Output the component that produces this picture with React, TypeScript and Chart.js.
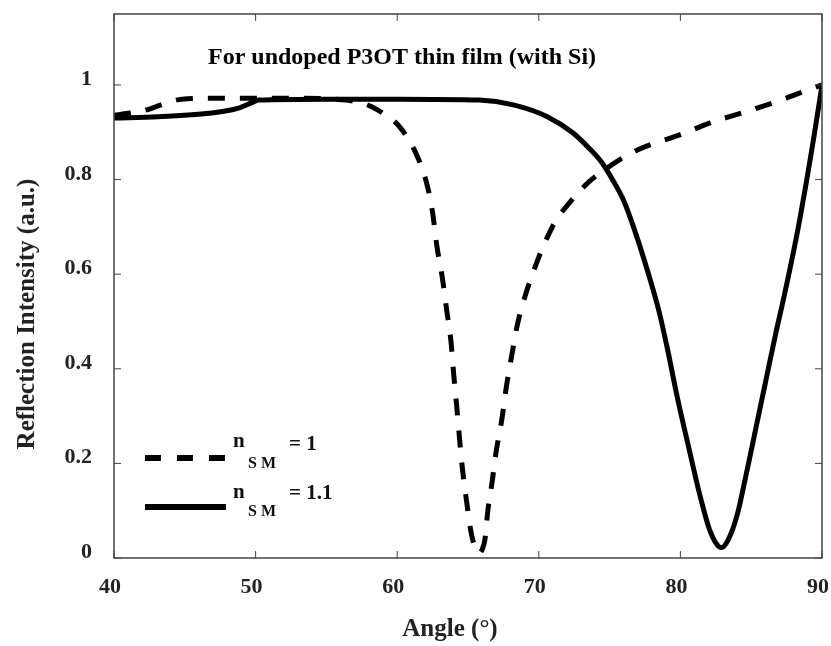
import React, { useEffect, useRef } from 'react';
import { Chart, registerables } from 'chart.js';

Chart.register(...registerables);

const FONT = '"Liberation Serif", "Times New Roman", serif';

const chartTitle = 'For undoped P3OT thin film (with Si)';
const xTitle = 'Angle (°)';
const yTitle = 'Reflection Intensity (a.u.)';
const legendMain = ['n', 'n'];
const legendSub = ['S M', 'S M'];
const legendValue = ['= 1', '= 1.1'];

const xTicks = [40, 50, 60, 70, 80, 90];
const yTicks = [0, 0.2, 0.4, 0.6, 0.8, 1];

// n_SM = 1 (dashed)
const angleDashed = [
  40, 41, 42.4, 43.5, 44.8, 47, 50, 53, 56.4, 57.5, 58.2, 59, 60.1, 61.3, 62.1, 62.5,
  62.8, 63.2, 63.5, 63.8, 64.0, 64.2, 64.4, 64.6, 64.9, 65.2, 65.5, 65.8, 66.0, 66.2,
  66.4, 66.7, 67.0, 67.4, 67.7, 68.1, 68.5, 69.1, 69.9, 70.6, 71.2, 72.0, 73.5, 75.2,
  77.0, 80, 82.3, 84.8, 87.1, 89.4, 90,
];
const reflDashed = [
  0.936, 0.94, 0.948, 0.96, 0.97, 0.972, 0.972, 0.972, 0.968, 0.962, 0.954, 0.94, 0.914,
  0.857, 0.79, 0.73, 0.66, 0.59, 0.523, 0.457, 0.385, 0.322, 0.253, 0.19, 0.12, 0.057,
  0.022, 0.01, 0.018, 0.04, 0.1, 0.16, 0.227, 0.295, 0.36, 0.43, 0.495, 0.56, 0.628, 0.678,
  0.713, 0.745, 0.794, 0.832, 0.863, 0.895, 0.922, 0.945, 0.968, 0.994, 1.0,
];

// n_SM = 1.1 (solid)
const angleSolid = [
  40, 43.1, 46.7, 48.8, 49.7, 50.2, 55, 60, 65.8, 68.2, 70.6, 72.4, 73.5, 74.4, 75.2,
  76.0, 76.8, 77.8, 78.5, 79.1, 79.8, 80.6, 81.4, 82.0, 82.5, 82.9, 83.4, 84.0, 84.6,
  85.3, 86.0, 86.7, 87.3, 88.3, 89.4, 90,
];
const reflSolid = [
  0.93, 0.933, 0.94, 0.951, 0.962, 0.968, 0.97, 0.97, 0.968, 0.958, 0.933, 0.899, 0.868,
  0.838, 0.8, 0.755, 0.69, 0.595, 0.52, 0.44, 0.337, 0.232, 0.13, 0.065, 0.032, 0.022,
  0.04, 0.09, 0.17, 0.27, 0.37, 0.47, 0.55, 0.695, 0.885, 1.0,
];

const toPoints = (xs: number[], ys: number[]) => xs.map((x, i) => ({ x, y: ys[i] }));
const fmt = (v: number) => String(Number(v.toFixed(2)));

export default function App() {
  const ref = useRef<HTMLCanvasElement>(null);

  useEffect(() => {
    const canvas = ref.current;
    if (!canvas) return;

    const framePlugin = {
      id: 'frame',
      afterDraw(chart: any) {
        const { ctx, chartArea: a } = chart;
        const xs = chart.scales.x;
        const ys = chart.scales.y;
        ctx.save();
        ctx.strokeStyle = '#444';
        ctx.lineWidth = 1.5;
        ctx.setLineDash([]);
        ctx.strokeRect(a.left, a.top, a.right - a.left, a.bottom - a.top);
        const tl = 7;
        ctx.lineWidth = 1;
        ctx.beginPath();
        xs.ticks.forEach((t: any) => {
          const px = xs.getPixelForValue(t.value);
          ctx.moveTo(px, a.bottom);
          ctx.lineTo(px, a.bottom - tl);
          ctx.moveTo(px, a.top);
          ctx.lineTo(px, a.top + tl);
        });
        ys.ticks.forEach((t: any) => {
          const py = ys.getPixelForValue(t.value);
          ctx.moveTo(a.left, py);
          ctx.lineTo(a.left + tl, py);
          ctx.moveTo(a.right, py);
          ctx.lineTo(a.right - tl, py);
        });
        ctx.stroke();

        // tick labels
        ctx.fillStyle = '#222';
        ctx.font = `bold 22px ${FONT}`;
        ctx.textAlign = 'center';
        ctx.textBaseline = 'alphabetic';
        xs.ticks.forEach((t: any) => {
          const px = xs.getPixelForValue(t.value);
          ctx.fillText(fmt(t.value), px - 4, a.bottom + 35);
        });
        ctx.textAlign = 'right';
        ys.ticks.forEach((t: any) => {
          const py = ys.getPixelForValue(t.value);
          ctx.fillText(fmt(t.value), a.left - 22, py);
        });

        ctx.fillStyle = '#000';
        ctx.font = `bold 24px ${FONT}`;
        ctx.textAlign = 'left';
        ctx.fillText(chartTitle, 208, 64);

        ctx.fillStyle = '#222';
        ctx.font = `bold 25px ${FONT}`;
        ctx.textAlign = 'center';
        ctx.fillText(xTitle, 450, 636);

        ctx.save();
        ctx.translate(28, 314);
        ctx.rotate(-Math.PI / 2);
        ctx.textBaseline = 'middle';
        ctx.fillText(yTitle, 0, 0);
        ctx.restore();

        const lineYs = [458, 507];
        const ds = chart.data.datasets;
        ctx.strokeStyle = '#000';
        ctx.lineCap = 'butt';
        lineYs.forEach((ly, i) => {
          ctx.lineWidth = 6;
          ctx.setLineDash(i === 0 ? [16, 16] : []);
          ctx.beginPath();
          ctx.moveTo(145, ly);
          ctx.lineTo(226, ly);
          ctx.stroke();
        });
        ctx.setLineDash([]);
        ctx.fillStyle = '#111';
        ctx.textAlign = 'left';
        ctx.textBaseline = 'alphabetic';
        const mainBase = [447, 498];
        const valBase = [450, 499];
        const subBase = [468, 516];
        ds.forEach((_: any, i: number) => {
          ctx.font = `bold 21px ${FONT}`;
          ctx.fillText(legendMain[i], 233, mainBase[i]);
          ctx.fillText(legendValue[i], 289, valBase[i]);
          ctx.font = `bold 16px ${FONT}`;
          ctx.fillText(legendSub[i], 248, subBase[i]);
        });
        ctx.restore();
      },
    };

    const chart = new Chart(canvas, {
      type: 'line',
      data: {
        datasets: [
          {
            label: 'n_SM = 1',
            data: toPoints(angleDashed, reflDashed),
            borderColor: '#000',
            borderWidth: 5,
            borderDash: [17, 15],
            borderCapStyle: 'butt',
            borderJoinStyle: 'round',
            pointRadius: 0,
            fill: false,
            cubicInterpolationMode: 'monotone',
          },
          {
            label: 'n_SM = 1.1',
            data: toPoints(angleSolid, reflSolid),
            borderColor: '#000',
            borderWidth: 5,
            borderCapStyle: 'butt',
            borderJoinStyle: 'round',
            pointRadius: 0,
            fill: false,
            cubicInterpolationMode: 'monotone',
          },
        ],
      },
      options: {
        responsive: false,
        animation: false,
        devicePixelRatio: 1,
        layout: { autoPadding: false, padding: { top: 14, right: 9, left: 0, bottom: 0 } },
        plugins: {
          legend: { display: false },
          tooltip: { enabled: false },
          title: { display: false },
        },
        scales: {
          x: {
            type: 'linear',
            min: xTicks[0],
            max: xTicks[xTicks.length - 1],
            afterFit: (s: any) => {
              s.height = 88;
              s.paddingLeft = 0;
              s.paddingRight = 0;
            },
            afterBuildTicks: (s: any) => {
              s.ticks = xTicks.map((v) => ({ value: v }));
            },
            grid: { display: false, drawTicks: false },
            border: { display: false },
            ticks: { display: false },
          },
          y: {
            type: 'linear',
            min: 0,
            max: 1.15,
            afterFit: (s: any) => {
              s.width = 114;
              s.paddingTop = 0;
              s.paddingBottom = 0;
            },
            afterBuildTicks: (s: any) => {
              s.ticks = yTicks.map((v) => ({ value: v }));
            },
            grid: { display: false, drawTicks: false },
            border: { display: false },
            ticks: { display: false },
          },
        },
      },
      plugins: [framePlugin],
    } as any);

    return () => chart.destroy();
  }, []);

  return (
    <div style={{ position: 'fixed', left: 0, top: 0, width: 831, height: 646, background: '#fff' }}>
      <canvas ref={ref} width={831} height={646} style={{ display: 'block' }} />
    </div>
  );
}
